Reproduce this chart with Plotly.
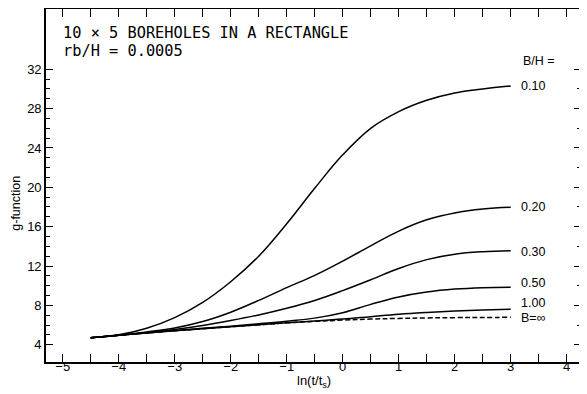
import plotly.graph_objects as go

# ln(t/ts) sample points
lnt = [-4.5, -4.0, -3.5, -3.0, -2.5, -2.0, -1.5, -1.0, -0.5, 0.0, 0.5, 1.0, 1.5, 2.0, 2.5, 3.0]

# g-function for each B/H
g_010 = [4.71, 5.00, 5.67, 6.75, 8.30, 10.40, 13.00, 16.30, 19.90, 23.30, 26.00, 27.70, 28.85, 29.60, 30.00, 30.30]
g_020 = [4.71, 4.97, 5.30, 5.70, 6.35, 7.30, 8.50, 9.80, 11.05, 12.50, 14.05, 15.55, 16.70, 17.40, 17.80, 17.97]
g_030 = [4.71, 4.96, 5.23, 5.55, 5.95, 6.45, 7.02, 7.70, 8.50, 9.50, 10.60, 11.75, 12.65, 13.20, 13.45, 13.55]
g_050 = [4.71, 4.95, 5.20, 5.43, 5.66, 5.88, 6.12, 6.38, 6.70, 7.25, 8.10, 8.85, 9.35, 9.65, 9.80, 9.85]
g_100 = [4.71, 4.95, 5.20, 5.42, 5.63, 5.83, 6.02, 6.22, 6.40, 6.60, 6.85, 7.10, 7.28, 7.42, 7.52, 7.60]
g_inf = [4.71, 4.95, 5.20, 5.42, 5.63, 5.83, 6.02, 6.22, 6.37, 6.50, 6.60, 6.67, 6.72, 6.75, 6.77, 6.78]

curve_labels = ["0.10", "0.20", "0.30", "0.50", "1.00", "B=∞"]
label_y = [30.3, 18.0, 13.4, 10.24, 8.2, 6.7]

y_major = [4, 8, 12, 16, 20, 24, 28, 32]
y_minor_left = list(range(4, 33))
y_minor_right = list(range(4, 33, 2))

series = [g_010, g_020, g_030, g_050, g_100, g_inf]

fig = go.Figure()
for i, ys in enumerate(series):
    fig.add_trace(go.Scatter(
        x=lnt, y=ys, mode="lines", showlegend=False,
        line=dict(color="black", width=1.5, shape="spline", smoothing=1.1,
                  dash="5px,2.5px" if i == 5 else "solid")))

# invisible trace to carry the right-hand tick axis
fig.add_trace(go.Scatter(x=[lnt[0]], y=[g_inf[0]], yaxis="y2", mode="markers",
                         marker=dict(opacity=0), showlegend=False, hoverinfo="skip"))

fnt = dict(family="Liberation Sans, Arial", size=13, color="black")
lab_fnt = dict(family="Liberation Sans, Arial", size=12.5, color="black")

for lab, yv in zip(curve_labels, label_y):
    fig.add_annotation(x=3.17, y=yv, xref="x", yref="y", text=lab, showarrow=False,
                       xanchor="left", yanchor="middle", font=lab_fnt, borderpad=0)

fig.add_annotation(x=3.2, y=32.85, xref="x", yref="y", text="B/H =", showarrow=False,
                   xanchor="left", yanchor="middle", font=lab_fnt, borderpad=0)

mono = dict(family="DejaVu Sans Mono", size=15.3, color="black")
fig.add_annotation(x=-5.02, y=35.7, xref="x", yref="y", text="10 × 5 BOREHOLES IN A RECTANGLE",
                   showarrow=False, xanchor="left", yanchor="middle", font=mono, borderpad=0)
fig.add_annotation(x=-5.02, y=33.85, xref="x", yref="y", text="rb/H = 0.0005",
                   showarrow=False, xanchor="left", yanchor="middle", font=mono, borderpad=0)

fig.add_annotation(x=-0.055, y=0.45, xref="paper", yref="paper", text="g-function",
                   textangle=-90, showarrow=False, xanchor="center", yanchor="middle",
                   font=dict(family="Liberation Sans, Arial", size=12.5, color="black"),
                   borderpad=0)
fig.add_annotation(x=0.5, y=-0.056, xref="paper", yref="paper", text="ln(t/t<sub>s</sub>)",
                   showarrow=False, xanchor="center", yanchor="middle", font=fnt)

# page body has an 8px margin, so the figure is drawn 8px smaller and margins shifted
fig.update_layout(
    width=579, height=386,
    margin=dict(l=38, r=6, t=1, b=32),
    paper_bgcolor="white", plot_bgcolor="white",
    xaxis=dict(range=[-5.298, 4.255], tickmode="linear", tick0=-5, dtick=1,
               ticks="inside", ticklen=8, tickwidth=1.3, tickcolor="black",
               minor=dict(dtick=0.5, ticks="inside", ticklen=4, tickwidth=1.2, tickcolor="black"),
               showline=True, linecolor="black", linewidth=1.6, mirror="allticks",
               showgrid=False, zeroline=False, tickfont=fnt, automargin=False,
               ticklabelstandoff=-8),
    yaxis=dict(range=[2.24, 38.13], tickmode="array", tickvals=y_major,
               ticks="inside", ticklen=7, tickwidth=1.3, tickcolor="black",
               minor=dict(tickmode="array", tickvals=y_minor_left, ticks="inside",
                          ticklen=4, tickwidth=1.2, tickcolor="black"),
               showline=True, linecolor="black", linewidth=1.6, mirror=True,
               showgrid=False, zeroline=False, tickfont=fnt, ticklabelstandoff=0,
               automargin=False),
    yaxis2=dict(range=[2.24, 38.13], overlaying="y", side="right", tickmode="array",
                tickvals=y_major, ticks="inside", ticklen=7, tickwidth=1.3, tickcolor="black",
                minor=dict(tickmode="array", tickvals=y_minor_right, ticks="inside",
                           ticklen=4, tickwidth=1.2, tickcolor="black"),
                showticklabels=False, showgrid=False, zeroline=False, showline=False,
                automargin=False),
)

fig.write_html("out.html")
